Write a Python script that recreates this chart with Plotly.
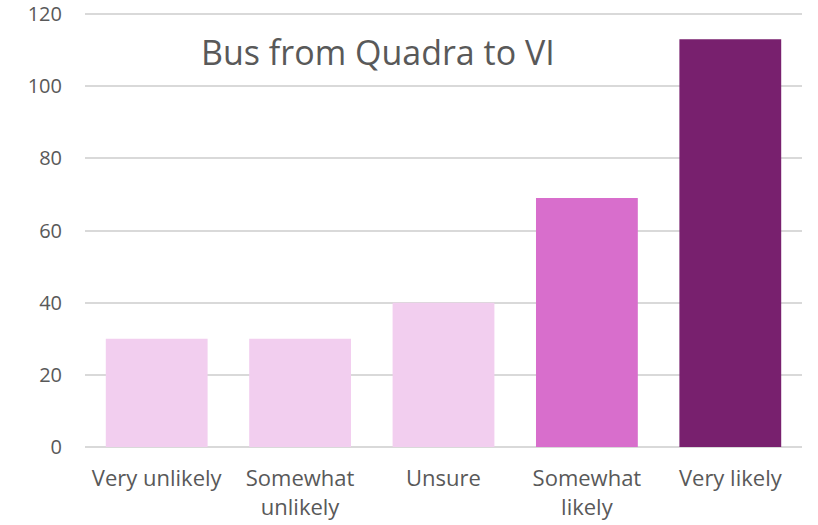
import plotly.graph_objects as go

categories = ["Very unlikely", "Somewhat<br>unlikely", "Unsure", "Somewhat<br>likely", "Very likely"]
values = [30, 30, 40, 69, 113]
colors = ["#F2CEEF", "#F2CEEF", "#F2CEEF", "#D86ECC", "#78206E"]
y_ticks = [0, 20, 40, 60, 80, 100, 120]
title = "Bus from Quadra to VI"

fig = go.Figure(go.Bar(x=categories, y=values, marker=dict(color=colors, line=dict(width=0)), width=0.71))

fig.update_layout(
    width=818, height=525,
    margin=dict(l=85, r=16, t=13, b=78),
    paper_bgcolor="white", plot_bgcolor="white",
    font=dict(family="Open Sans", size=18, color="#595959"),
    showlegend=False,
    bargap=0.29,
    annotations=[dict(text=title, x=0.409, y=0.91, xref="paper", yref="paper",
                      xanchor="center", yanchor="middle", showarrow=False,
                      font=dict(family="Open Sans", size=34, color="#595959"))],
)
fig.update_xaxes(showgrid=False, showline=False, ticks="", automargin=False, ticklabelstandoff=16,
                 tickfont=dict(size=22, color="#595959"))
fig.update_yaxes(range=[0, 120.3], tickvals=y_ticks, showgrid=True, gridcolor="#D9D9D9", gridwidth=1.5,
                 zeroline=True, zerolinecolor="#D9D9D9", zerolinewidth=1.5, automargin=False,
                 showline=False, ticks="", ticklabelstandoff=22, ticklabeloverflow="allow",
                 tickfont=dict(size=20, color="#595959"))

fig.write_html("out.html", config={"displayModeBar": False},
               post_script="document.body.style.margin='0';")
